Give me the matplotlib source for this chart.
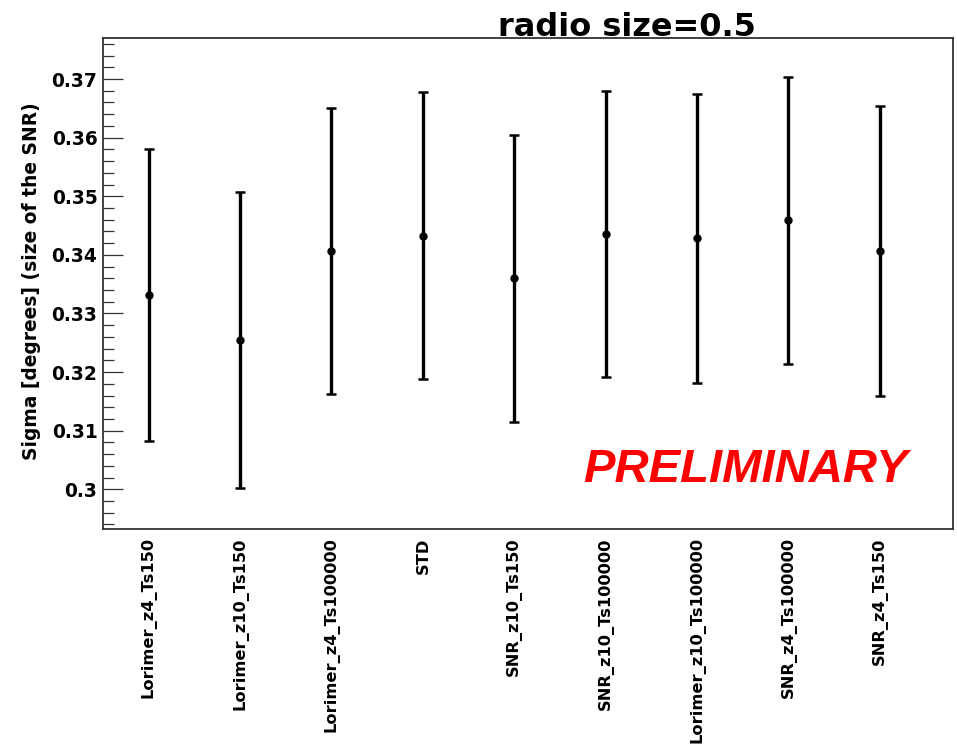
import matplotlib
matplotlib.use("Agg")
import matplotlib.pyplot as plt
import numpy as np

# ---- data ----
categories = ["Lorimer_z4_Ts150", "Lorimer_z10_Ts150", "Lorimer_z4_Ts100000", "STD",
              "SNR_z10_Ts150", "SNR_z10_Ts100000", "Lorimer_z10_Ts100000",
              "SNR_z4_Ts100000", "SNR_z4_Ts150"]
sigma = [0.3332, 0.3255, 0.3407, 0.3433, 0.3360, 0.3436, 0.3428, 0.3459, 0.3407]
sigma_err = [0.0249, 0.0252, 0.0244, 0.0245, 0.0245, 0.0244, 0.0247, 0.0245, 0.0247]
ytick_values = [0.30, 0.31, 0.32, 0.33, 0.34, 0.35, 0.36, 0.37]
ytick_labels = ["0.3", "0.31", "0.32", "0.33", "0.34", "0.35", "0.36", "0.37"]
title = "radio size=0.5"
ylabel = "Sigma [degrees] (size of the SNR)"
watermark = "PRELIMINARY"

W, H = 957, 748
fig = plt.figure(figsize=(W / 100, H / 100), dpi=100)
ax = fig.add_axes([103 / W, 1 - 529 / H, (953 - 103) / W, (529 - 37.5) / H])

x = np.arange(len(categories))
ax.errorbar(x, sigma, yerr=sigma_err, fmt='o', color='black', ecolor='black',
            markersize=5, elinewidth=2.4, capsize=3.5, capthick=1.8, zorder=3)

ax.set_xlim(-0.5, 8.8)
ax.set_ylim(0.29322, 0.37709)

ax.set_yticks(ytick_values)
ax.set_yticklabels(ytick_labels, fontsize=13.4, fontweight='bold', family='DejaVu Sans')
ax.set_yticks(np.arange(0.294, 0.3775, 0.002), minor=True)
ax.tick_params(axis='y', which='major', direction='in', length=14.4, width=0.9,
               color='#333333', pad=4, right=False)
ax.tick_params(axis='y', which='minor', direction='in', length=7.8, width=0.9,
               color='#333333', right=False)

ax.set_xticks(x)
ax.set_xticklabels(categories, rotation=90, fontsize=11.7, fontweight='bold',
                   family='DejaVu Sans', va='top', ha='center')
ax.tick_params(axis='x', which='both', length=0, pad=6)

for s in ax.spines.values():
    s.set_linewidth(1.3)
    s.set_color('#333333')

fig.text(626.5 / W, 1 - 36.5 / H, title, ha='center', va='baseline',
         fontsize=23, fontweight='bold', family='DejaVu Sans')
fig.text(32 / W, 1 - 281 / H, ylabel, rotation=90, ha='center', va='center',
         fontsize=13.4, fontweight='bold', family='DejaVu Sans')
fig.text(583 / W, 1 - 482 / H, watermark, ha='left', va='baseline',
         fontsize=34, fontweight='bold', style='italic', color='#ff0000',
         family='Liberation Sans')

fig.savefig("out.png", dpi=100)
